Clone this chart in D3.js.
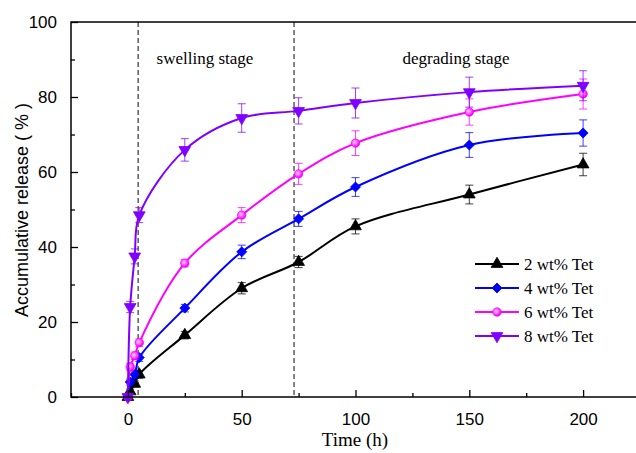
<!DOCTYPE html>
<html lang="en">
<head>
  <meta charset="UTF-8">
  <title>Accumulative release</title>
  <script src="https://d3js.org/d3.v7.min.js"></script>
  <style>
    body { margin: 0; background: #fff; }
  </style>
</head>
<body>
  <svg width="636" height="453"></svg>
  <script>
    // data
    var times = [0, 1, 3, 5, 25, 50, 75, 100, 150, 200];
    var tet2 = [0, 1.5, 3.5, 6, 16.5, 29, 36, 45.5, 54, 62];
    var tet2Err = [0.5, 0.6, 0.8, 1, 1, 1.5, 1.5, 2, 2.5, 3];
    var tet4 = [0, 4, 6, 10.5, 23.7, 38.7, 47.5, 56, 67.2, 70.4];
    var tet4Err = [0.5, 0.8, 1, 1, 1, 1.8, 2, 2.5, 3.3, 3.5];
    var tet6 = [0, 8, 11, 14.5, 35.7, 48.5, 59.5, 67.7, 76, 80.8];
    var tet6Err = [0.5, 1, 1, 1, 1, 2, 2.8, 3.3, 3.5, 4];
    var tet8 = [0, 24, 37.5, 48.5, 65.9, 74.4, 76.3, 78.4, 81.3, 83];
    var tet8Err = [0.5, 1.5, 2, 2, 3, 3.8, 3.5, 4, 4, 4];
    var seriesNames = ["2 wt% Tet", "4 wt% Tet", "6 wt% Tet", "8 wt% Tet"];
    var xTicks = [0, 50, 100, 150, 200];
    var yTicks = [0, 20, 40, 60, 80, 100];
    var stageLines = [4.5, 73];

    var series = [
      { name: seriesNames[0], values: tet2, err: tet2Err, color: "#000000", shape: "up" },
      { name: seriesNames[1], values: tet4, err: tet4Err, color: "#0000ff", shape: "diamond" },
      { name: seriesNames[2], values: tet6, err: tet6Err, color: "#ff00ff", shape: "circle" },
      { name: seriesNames[3], values: tet8, err: tet8Err, color: "#8000ff", shape: "down" }
    ];

    var svg = d3.select("svg");
    var plotLeft = 71, plotRight = 640, plotTop = 22, plotBottom = 397;

    var xScale = d3.scaleLinear().domain([-25, 225]).range([plotLeft, plotRight]);
    var yScale = d3.scaleLinear().domain([0, 100]).range([plotBottom, plotTop]);

    var defs = svg.append("defs");
    var grad = defs.append("radialGradient").attr("id", "ball")
      .attr("cx", "40%").attr("cy", "40%").attr("r", "60%");
    grad.append("stop").attr("offset", "0%").attr("stop-color", "#ffd6ff");
    grad.append("stop").attr("offset", "70%").attr("stop-color", "#ff33ff");
    grad.append("stop").attr("offset", "100%").attr("stop-color", "#e000e0");

    // stage separators
    svg.selectAll(".stage")
      .data(stageLines)
      .enter()
      .append("line")
      .attr("x1", function (d) { return xScale(d); })
      .attr("x2", function (d) { return xScale(d); })
      .attr("y1", plotTop)
      .attr("y2", plotBottom)
      .attr("stroke", "#444")
      .attr("stroke-width", 1.3)
      .attr("stroke-dasharray", "5,3");

    svg.append("text")
      .attr("x", 205).attr("y", 64)
      .attr("text-anchor", "middle")
      .style("font-family", "Liberation Serif")
      .style("font-size", "17px")
      .text("swelling stage");

    svg.append("text")
      .attr("x", 456).attr("y", 64)
      .attr("text-anchor", "middle")
      .style("font-family", "Liberation Serif")
      .style("font-size", "17px")
      .text("degrading stage");

    function symbolPath(shape) {
      if (shape === "up" || shape === "down") return d3.symbol().type(d3.symbolTriangle).size(60)();
      if (shape === "diamond") return d3.symbol().type(d3.symbolSquare).size(50)();
      return d3.symbol().type(d3.symbolCircle).size(55)();
    }

    function drawMarker(g, s, x, y) {
      var rot = s.shape === "down" ? " rotate(180)" : (s.shape === "diamond" ? " rotate(45)" : "");
      return g.append("path")
        .attr("d", symbolPath(s.shape))
        .attr("transform", "translate(" + x + "," + y + ")" + rot)
        .attr("fill", s.shape === "circle" ? "url(#ball)" : s.color)
        .attr("stroke", s.color)
        .attr("stroke-width", 0.8);
    }

    var line = d3.line()
      .x(function (d) { return xScale(d[0]); })
      .y(function (d) { return yScale(d[1]); })
      .curve(d3.curveCatmullRom.alpha(0.5));

    series.forEach(function (s) {
      var pts = times.map(function (t, i) { return [t, s.values[i], s.err[i]]; });
      var g = svg.append("g");

      // error bars
      var eb = g.selectAll(".err")
        .data(pts)
        .enter()
        .append("g")
        .attr("stroke", s.color)
        .attr("stroke-opacity", 0.75)
        .attr("stroke-width", 1);
      eb.append("line")
        .attr("x1", function (d) { return xScale(d[0]); })
        .attr("x2", function (d) { return xScale(d[0]); })
        .attr("y1", function (d) { return yScale(d[1] - d[2]); })
        .attr("y2", function (d) { return yScale(d[1] + d[2]); });
      eb.append("line")
        .attr("x1", function (d) { return xScale(d[0]) - 4; })
        .attr("x2", function (d) { return xScale(d[0]) + 4; })
        .attr("y1", function (d) { return yScale(d[1] + d[2]); })
        .attr("y2", function (d) { return yScale(d[1] + d[2]); });
      eb.append("line")
        .attr("x1", function (d) { return xScale(d[0]) - 4; })
        .attr("x2", function (d) { return xScale(d[0]) + 4; })
        .attr("y1", function (d) { return yScale(d[1] - d[2]); })
        .attr("y2", function (d) { return yScale(d[1] - d[2]); });

      g.append("path")
        .datum(pts)
        .attr("d", line)
        .attr("fill", "none")
        .attr("stroke", s.color)
        .attr("stroke-width", 2);

      pts.forEach(function (d) {
        drawMarker(g, s, xScale(d[0]), yScale(d[1]));
      });
    });

    // frame
    svg.append("rect")
      .attr("x", plotLeft).attr("y", plotTop)
      .attr("width", plotRight - plotLeft).attr("height", plotBottom - plotTop)
      .attr("fill", "none")
      .attr("stroke", "#000")
      .attr("stroke-width", 1.5);

    // axes with inward ticks
    svg.append("g")
      .attr("transform", "translate(0," + plotBottom + ")")
      .call(d3.axisBottom(xScale).tickValues(xTicks).tickSize(-7).tickPadding(16));
    svg.append("g")
      .attr("transform", "translate(0," + plotBottom + ")")
      .call(d3.axisBottom(xScale).tickValues([-25, 25, 75, 125, 175, 225]).tickSize(-4).tickFormat(""));
    svg.append("g")
      .attr("transform", "translate(" + plotLeft + ",0)")
      .call(d3.axisLeft(yScale).tickValues(yTicks).tickSize(-7).tickPadding(14));
    svg.append("g")
      .attr("transform", "translate(" + plotLeft + ",0)")
      .call(d3.axisLeft(yScale).tickValues([10, 30, 50, 70, 90]).tickSize(-4).tickFormat(""));

    svg.selectAll(".domain").remove();
    svg.selectAll(".tick line").attr("stroke", "#000").attr("stroke-width", 1.3);
    svg.selectAll(".tick text")
      .style("font-family", "Liberation Sans")
      .style("font-size", "17px")
      .attr("fill", "#000");

    // axis titles
    svg.append("text")
      .attr("x", 355).attr("y", 446)
      .attr("text-anchor", "middle")
      .style("font-family", "Liberation Serif")
      .style("font-size", "19px")
      .text("Time (h)");

    svg.append("text")
      .attr("text-anchor", "middle")
      .attr("transform", "translate(28,210)rotate(-90)")
      .style("font-family", "Liberation Sans")
      .style("font-size", "18px")
      .text("Accumulative release ( % )");

    // legend
    var legend = svg.append("g");
    series.forEach(function (s, i) {
      var y = 264 + i * 24;
      legend.append("line")
        .attr("x1", 475).attr("x2", 519)
        .attr("y1", y).attr("y2", y)
        .attr("stroke", s.color)
        .attr("stroke-width", 2);
      drawMarker(legend, s, 497, y);
      legend.append("text")
        .attr("x", 524).attr("y", y + 6)
        .style("font-family", "Liberation Serif")
        .style("font-size", "17px")
        .text(s.name);
    });
  </script>
</body>
</html>
